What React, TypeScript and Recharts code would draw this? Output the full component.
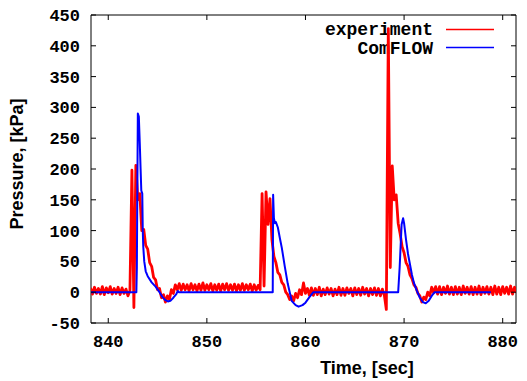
import React from "react";
import { LineChart, Line, XAxis, YAxis, ReferenceArea } from "recharts";

// ---------- data ----------
const xTicks = [840, 850, 860, 870, 880];
const yTicks = [-50, 0, 50, 100, 150, 200, 250, 300, 350, 400, 450];
const X_MIN = 838.25;
const X_MAX = 881.35;

// experiment: sampled every 0.2 s starting at 838.2 s
const expStart = 838.2;
const expStep = 0.2;
const expPressure = [
  7, -3, 8, -2, 6, -3, 9, -4, 7, -1, 9, -3, 6, -2, 8, -4, 7, -2, 5, -6,
  3, 198, -25, 206, 150, 160, 100, 102, 76, 70, 48, 42, 24, 20, 4, 6, -9, -4, -16, -6, -12, 4, -2, 12, 4, 14,
  3, 13, 4, 12, 2, 14, 4, 12, 2, 13, 3, 15, 3, 12, 4, 14, 2, 12, 3, 13,
  2, 13, 4, 14, 3, 12, 3, 13, 2, 12, 3, 14, 3, 12, 4, 13, 2, 12, 3, 11,
  4, 160, 10, 163, 110, 152, 85, 58, 48, 32, 28, 16, 12, 0, -4, -12, -6, -14, -2, -9, 4, -4, 15,
  -2, 6, -5, 7, -5, 6, -4, 8, -6, 5, -4, 7, -3, 6, -6, 5, -4, 8, -5, 6,
  -5, 7, -2, 6, -6, 7, -4, 6, -5, 8, -3, 6, -6, 6, -4, 7, -5, 6, -6, 5, -5,
  -28, 428, 40, 205, 150, 158, 112, 95, 74, 64, 48, 42, 28, 22, 12, 8, -2, -6, -16, -8, -12, 0, -6, 8,
  -1, 9, -3, 9, -4, 8, -2, 10, -3, 8, -4, 9, -3, 8, -4, 10, -2, 8, -3, 9,
  -4, 8, -3, 10, -4, 8, -2, 9, -3, 8, -4, 10, -3, 8, -4, 9, -2, 8, -3, 10,
  -3, 8, -1,
];

// ComFLOW simulation
const comflowTime = [
  838.25, 842.85, 842.9, 843.0, 843.1, 843.2, 843.28, 843.35, 843.45, 843.5, 843.55, 843.65, 843.8, 844.0,
  844.4, 844.8, 845.2, 845.5, 845.8, 846.05, 846.3, 846.6, 846.9, 847.05, 847.15,
  856.68, 856.72, 856.8, 856.9, 857.0, 857.2, 857.4, 857.6, 857.9, 858.2, 858.6, 859.0, 859.3, 859.7,
  860.0, 860.4, 860.8,
  869.4, 869.55, 869.75, 869.9, 870.0, 870.2, 870.4, 870.6, 870.8, 871.0, 871.3, 871.6, 871.9, 872.2,
  872.5, 872.8, 873.1, 878.8,
];
const comflowPressure = [
  0, 0, 40, 290, 285, 240, 200, 165, 160, 100, 74, 50, 34, 26,
  16, 9, 0, -8, -13, -15, -14, -9, -3, 2, 0,
  0, 158, 120, 112, 114, 105, 88, 72, 42, 14, -14, -21, -23.5, -21,
  -17, -8, 0,
  0, 40, 110, 120, 112, 85, 62, 45, 28, 15, 2, -9, -16, -18,
  -14, -6, 0, 0,
];

const expData = expPressure.map((p, i) => ({
  t: Math.round((expStart + i * expStep) * 100) / 100,
  p,
}));
const comflowData = comflowTime.map((t, i) => ({ t, p: comflowPressure[i] }));

// ---------- layout ----------
const W = 527;
const H = 381;
const PLOT = { left: 91, right: 516, top: 15, bottom: 323 };
const TICK_LEN = 5;
const MONO = "'Liberation Mono', 'Courier New', monospace";
const SANS = "'Liberation Sans', Arial, sans-serif";

const XTick = (props: any) => {
  const { x, payload } = props;
  return (
    <g>
      <line x1={x} x2={x} y1={PLOT.bottom} y2={PLOT.bottom - TICK_LEN} stroke="#000" strokeWidth={1} />
      <line x1={x} x2={x} y1={PLOT.top} y2={PLOT.top + TICK_LEN} stroke="#000" strokeWidth={1} />
      <text x={x} y={347} textAnchor="middle" fontFamily={MONO} fontWeight="bold" fontSize={17} fill="#000">
        {payload.value}
      </text>
    </g>
  );
};

const YTick = (props: any) => {
  const { y, payload } = props;
  return (
    <g>
      <line x1={PLOT.left} x2={PLOT.left + TICK_LEN} y1={y} y2={y} stroke="#000" strokeWidth={1} />
      <line x1={PLOT.right} x2={PLOT.right - TICK_LEN} y1={y} y2={y} stroke="#000" strokeWidth={1} />
      <text x={80} y={y + 6} textAnchor="end" fontFamily={MONO} fontWeight="bold" fontSize={17} fill="#000">
        {payload.value}
      </text>
    </g>
  );
};

export default function App() {
  return (
    <div style={{ position: "absolute", left: 0, top: 0, width: W, height: H, background: "#fff" }}>
      <svg width={W} height={H} style={{ position: "absolute", left: 0, top: 0 }}>
        <text x={433} y={35} textAnchor="end" fontFamily={MONO} fontWeight="bold" fontSize={18} fill="#000">
          experiment
        </text>
        <line x1={446} x2={494} y1={29.5} y2={29.5} stroke="#ff0000" strokeWidth={1.6} />
        <text x={433} y={54} textAnchor="end" fontFamily={MONO} fontWeight="bold" fontSize={18} fill="#000">
          ComFLOW
        </text>
        <line x1={446} x2={494} y1={47.5} y2={47.5} stroke="#0000ff" strokeWidth={1.6} />
        <text x={367} y={374} textAnchor="middle" fontFamily={SANS} fontWeight="bold" fontSize={18} fill="#000">
          Time, [sec]
        </text>
        <text
          x={0}
          y={0}
          transform="translate(23,164) rotate(-90)"
          textAnchor="middle"
          fontFamily={SANS}
          fontWeight="bold"
          fontSize={18}
          fill="#000"
        >
          Pressure, [kPa]
        </text>
      </svg>
      <div style={{ position: "absolute", left: 0, top: 0 }}>
        <LineChart width={W} height={H} margin={{ top: 15, right: 11, bottom: 0, left: 0 }}>
          <XAxis
            dataKey="t"
            type="number"
            domain={[X_MIN, X_MAX]}
            allowDataOverflow
            ticks={xTicks}
            tick={<XTick />}
            tickLine={false}
            axisLine={false}
            height={58}
            interval={0}
          />
          <YAxis
            type="number"
            domain={[-50, 450]}
            allowDataOverflow
            ticks={yTicks}
            tick={<YTick />}
            tickLine={false}
            axisLine={false}
            width={91}
            interval={0}
          />
          <Line
            data={expData}
            dataKey="p"
            type="linear"
            stroke="#ff0000"
            strokeWidth={2.8}
            strokeLinejoin="round"
            dot={false}
            activeDot={false}
            isAnimationActive={false}
          />
          <Line
            data={comflowData}
            dataKey="p"
            type="linear"
            stroke="#0000ff"
            strokeWidth={2}
            strokeLinejoin="round"
            dot={false}
            activeDot={false}
            isAnimationActive={false}
          />
          <ReferenceArea
            x1={X_MIN}
            x2={X_MAX}
            y1={-50}
            y2={450}
            fill="none"
            fillOpacity={0}
            stroke="#000"
            strokeWidth={1}
            ifOverflow="visible"
          />
        </LineChart>
      </div>
    </div>
  );
}
